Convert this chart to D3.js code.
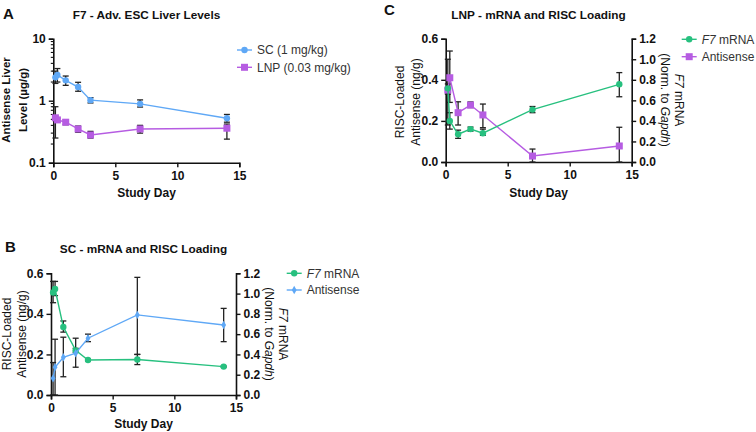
<!DOCTYPE html>
<html><head><meta charset="utf-8">
<script src="https://cdn.jsdelivr.net/npm/d3@7"></script>
<style>
body{margin:0;background:#fff;}
svg{font-family:"Liberation Sans",Arial,sans-serif;}
</style></head>
<body><svg id="c" width="756" height="432"></svg>
<script>
// ---------- DATA ----------
const days = [0.17, 0.33, 1, 2, 3, 7, 14];
const xTicks = [0, 5, 10, 15];

// Panel A: antisense liver levels (ug/g), log scale
const scMean = [2.38, 2.6, 2.13, 1.66, 1.02, 0.89, 0.52];
const scLo   = [1.9, 2.0, 1.77, 1.42, 0.92, 0.79, 0.45];
const scHi   = [3.0, 3.3, 2.5, 1.98, 1.12, 1.03, 0.6];
const lnpMean = [0.53, 0.49, 0.45, 0.35, 0.28, 0.35, 0.36];
const lnpLo   = [0.25, 0.46, 0.41, 0.31, 0.25, 0.30, 0.24];
const lnpHi   = [0.80, 0.52, 0.49, 0.39, 0.32, 0.40, 0.42];
const logTicks = [0.1, 1, 10];

// Panel B: SC - F7 mRNA (right axis) and RISC-loaded antisense (left axis)
const bMrna   = [1.01, 1.045, 0.67, 0.44, 0.345, 0.35, 0.28];
const bMrnaLo = [0.91, 0.98, 0.62, 0.42, 0.335, 0.30, 0.275];
const bMrnaHi = [1.12, 1.12, 0.73, 0.46, 0.355, 0.40, 0.285];
const bAs   = [0.082, 0.137, 0.186, 0.206, 0.28, 0.395, 0.345];
const bAsLo = [0.0, 0.0, 0.09, 0.137, 0.263, 0.2, 0.263];
const bAsHi = [0.16, 0.275, 0.285, 0.28, 0.30, 0.58, 0.427];

// Panel C: LNP - F7 mRNA (right axis) and RISC-loaded antisense (left axis)
const cMrna   = [0.717, 0.40, 0.27, 0.32, 0.28, 0.51, 0.756];
const cMrnaLo = [0.66, 0.32, 0.23, 0.30, 0.26, 0.48, 0.635];
const cMrnaHi = [0.76, 0.48, 0.31, 0.34, 0.32, 0.54, 0.87];
const cAs   = [0.35, 0.41, 0.24, 0.277, 0.229, 0.029, 0.078];
const cAsLo = [0.18, 0.29, 0.18, 0.265, 0.167, 0.0, 0.0];
const cAsHi = [0.50, 0.54, 0.293, 0.292, 0.282, 0.063, 0.169];

const leftTicks = [0, 0.2, 0.4, 0.6];
const rightTicks = [0, 0.2, 0.4, 0.6, 0.8, 1.0, 1.2];

const BLUE = "#5fa8f6", PURPLE = "#b65ce2", GREEN = "#27c07f", ERR = "#222";

// ---------- DRAW ----------
const svg = d3.select("#c");

function styleAxis(g){
  g.select(".domain").attr("stroke","#111").attr("stroke-width",1.6);
  g.selectAll(".tick line").attr("stroke","#111").attr("stroke-width",1.4);
  g.selectAll(".tick text").attr("font-size","12px").attr("font-weight","bold").attr("fill","#111")
    .attr("font-family","'Liberation Sans',Arial,sans-serif");
}

function errBars(g, x, y, lo, hi){
  const cw = 3;
  days.forEach((d,i)=>{
    const xx = x(d);
    g.append("line").attr("x1",xx).attr("x2",xx).attr("y1",y(lo[i])).attr("y2",y(hi[i]))
      .attr("stroke",ERR).attr("stroke-width",1.3);
    [lo[i],hi[i]].forEach(v=>{
      g.append("line").attr("x1",xx-cw).attr("x2",xx+cw).attr("y1",y(v)).attr("y2",y(v))
        .attr("stroke",ERR).attr("stroke-width",1.3);
    });
  });
}

function series(g, x, y, vals, color, shape){
  g.append("path").datum(vals)
    .attr("d", d3.line().x((v,i)=>x(days[i])).y(v=>y(v)))
    .attr("fill","none").attr("stroke",color).attr("stroke-width",1.4);
  vals.forEach((v,i)=>marker(g, x(days[i]), y(v), color, shape));
}

function marker(g, cx, cy, color, shape){
  if(shape==="circle") g.append("circle").attr("cx",cx).attr("cy",cy).attr("r",3.2).attr("fill",color);
  else if(shape==="square") g.append("rect").attr("x",cx-3.5).attr("y",cy-3.5).attr("width",7).attr("height",7).attr("fill",color);
  else g.append("path").attr("d",d3.symbol(d3.symbolDiamond, 20)()).attr("transform",`translate(${cx},${cy})`).attr("fill",color);
}

function legendItem(x0, y0, color, shape, parts){
  svg.append("line").attr("x1",x0).attr("x2",x0+15).attr("y1",y0).attr("y2",y0).attr("stroke",color).attr("stroke-width",1.4);
  marker(svg, x0+7.5, y0, color, shape);
  const t = svg.append("text").attr("x",x0+20).attr("y",y0).attr("dy","0.35em").attr("font-size","12px").attr("fill","#333");
  parts.forEach(p=>t.append("tspan").attr("font-style",p[1]?"italic":"normal").text(p[0]));
}

function text(x,y,str,opts={}){
  const t = svg.append("text").attr("x",x).attr("y",y).attr("font-size",opts.size||"12px")
    .attr("font-weight",opts.weight||"bold").attr("fill","#111").attr("text-anchor",opts.anchor||"middle");
  return t.text(str);
}

function rotLabel(cx, cy, angle, lines){
  const g = svg.append("g").attr("transform",`translate(${cx},${cy}) rotate(${angle})`);
  lines.forEach(l=>{
    const t = g.append("text").attr("x",0).attr("y",l.dy).attr("dy","0.35em").attr("text-anchor","middle")
      .attr("font-size",l.size||"11.5px").attr("font-weight",l.weight||"bold").attr("fill","#111");
    l.parts.forEach(p=>t.append("tspan").attr("font-style",p[1]?"italic":"normal").text(p[0]));
  });
}

// ===== Panel A =====
{
  const x = d3.scaleLinear().domain([0,15]).range([53.3,239.3]);
  const y = d3.scaleLog().domain([0.1,10]).range([162.7,38.7]);
  const g = svg.append("g");
  // minor log ticks
  const minor = [];
  [0.1,1].forEach(b=>{for(let k=2;k<=9;k++) minor.push(b*k);});
  minor.forEach(v=>g.append("line").attr("x1",53.3).attr("x2",50.8).attr("y1",y(v)).attr("y2",y(v)).attr("stroke","#111").attr("stroke-width",1.1));
  const ya = g.append("g").attr("transform","translate(53.3,0)")
    .call(d3.axisLeft(y).tickValues(logTicks).tickFormat(d=>d===0.1?"0.1":d3.format("d")(d)).tickSizeOuter(0).tickSize(4.5).tickPadding(3));
  styleAxis(ya);
  const xa = g.append("g").attr("transform","translate(0,162.7)")
    .call(d3.axisBottom(x).tickValues(xTicks).tickSizeOuter(0).tickSize(4.5).tickPadding(4));
  styleAxis(xa);
  errBars(g, x, y, scLo, scHi);
  errBars(g, x, y, lnpLo, lnpHi);
  series(g, x, y, scMean, BLUE, "circle");
  series(g, x, y, lnpMean, PURPLE, "square");
  text(3, 18.5, "A", {size:"15px", anchor:"start"});
  text(146.5, 19, "F7 - Adv. ESC Liver Levels", {size:"11.8px"});
  text(146.5, 196.5, "Study Day");
  rotLabel(6, 100, -90, [{dy:-0.5, parts:[["Antisense Liver"]]},{dy:16.5, parts:[["Level (µg/g)"]]}]);
  legendItem(237, 50, BLUE, "circle", [["SC (1 mg/kg)"]]);
  legendItem(237, 67.3, PURPLE, "square", [["LNP (0.03 mg/kg)"]]);
}

// ===== Panel C =====
{
  const x = d3.scaleLinear().domain([0,15]).range([445.7,631.7]);
  const yl = d3.scaleLinear().domain([0,0.6]).range([162,38.7]);
  const yr = d3.scaleLinear().domain([0,1.2]).range([162,38.7]);
  const g = svg.append("g");
  const la = g.append("g").attr("transform","translate(445.7,0)")
    .call(d3.axisLeft(yl).tickValues(leftTicks).tickFormat(d3.format(".1f")).tickSizeOuter(0).tickSize(4.5).tickPadding(3));
  styleAxis(la);
  const ra = g.append("g").attr("transform","translate(631.7,0)")
    .call(d3.axisRight(yr).tickValues(rightTicks).tickFormat(d3.format(".1f")).tickSizeOuter(0).tickSize(4.5).tickPadding(3));
  styleAxis(ra);
  const xa = g.append("g").attr("transform","translate(0,162)")
    .call(d3.axisBottom(x).tickValues(xTicks).tickSizeOuter(0).tickSize(4.5).tickPadding(4));
  styleAxis(xa);
  errBars(g, x, yl, cAsLo, cAsHi);
  errBars(g, x, yr, cMrnaLo, cMrnaHi);
  series(g, x, yl, cAs, PURPLE, "square");
  series(g, x, yr, cMrna, GREEN, "circle");
  text(384, 15, "C", {size:"15px", anchor:"start"});
  text(538.5, 19, "LNP - mRNA and RISC Loading", {size:"11.8px"});
  text(538.5, 196.5, "Study Day");
  rotLabel(407.5, 102, -90, [{dy:-7.5, parts:[["RISC-Loaded"]], weight:"normal", size:"12px"},{dy:8, parts:[["Antisense (ng/g)"]], weight:"normal", size:"12px"}]);
  rotLabel(673, 100, 90, [{dy:-6, parts:[["F7",1],[" mRNA"]], weight:"normal", size:"12px"},{dy:8, parts:[["(Norm. to "],["Gapdh",1],[")"]], weight:"normal", size:"12px"}]);
  legendItem(681.7, 39.3, GREEN, "circle", [["F7",1],[" mRNA"]]);
  legendItem(681.7, 56.7, PURPLE, "square", [["Antisense"]]);
}

// ===== Panel B =====
{
  const x = d3.scaleLinear().domain([0,15]).range([51,236]);
  const yl = d3.scaleLinear().domain([0,0.6]).range([395,273.3]);
  const yr = d3.scaleLinear().domain([0,1.2]).range([395,273.3]);
  const g = svg.append("g");
  const la = g.append("g").attr("transform","translate(51,0)")
    .call(d3.axisLeft(yl).tickValues(leftTicks).tickFormat(d3.format(".1f")).tickSizeOuter(0).tickSize(4.5).tickPadding(3));
  styleAxis(la);
  const ra = g.append("g").attr("transform","translate(236,0)")
    .call(d3.axisRight(yr).tickValues(rightTicks).tickFormat(d3.format(".1f")).tickSizeOuter(0).tickSize(4.5).tickPadding(3));
  styleAxis(ra);
  const xa = g.append("g").attr("transform","translate(0,395)")
    .call(d3.axisBottom(x).tickValues(xTicks).tickSizeOuter(0).tickSize(4.5).tickPadding(4));
  styleAxis(xa);
  errBars(g, x, yl, bAsLo, bAsHi);
  errBars(g, x, yr, bMrnaLo, bMrnaHi);
  series(g, x, yr, bMrna, GREEN, "circle");
  series(g, x, yl, bAs, BLUE, "diamond");
  text(5, 251.7, "B", {size:"15px", anchor:"start"});
  text(143.5, 253.3, "SC - mRNA and RISC Loading", {size:"11.8px"});
  text(143.5, 428, "Study Day");
  rotLabel(14, 334, -90, [{dy:-7.5, parts:[["RISC-Loaded"]], weight:"normal", size:"12px"},{dy:8, parts:[["Antisense (ng/g)"]], weight:"normal", size:"12px"}]);
  rotLabel(277, 334, 90, [{dy:-6.5, parts:[["F7",1],[" mRNA"]], weight:"normal", size:"12px"},{dy:8, parts:[["(Norm. to "],["Gapdh",1],[")"]], weight:"normal", size:"12px"}]);
  legendItem(286.7, 273.3, GREEN, "circle", [["F7",1],[" mRNA"]]);
  legendItem(286.7, 290, BLUE, "diamond", [["Antisense"]]);
}
</script></body></html>
